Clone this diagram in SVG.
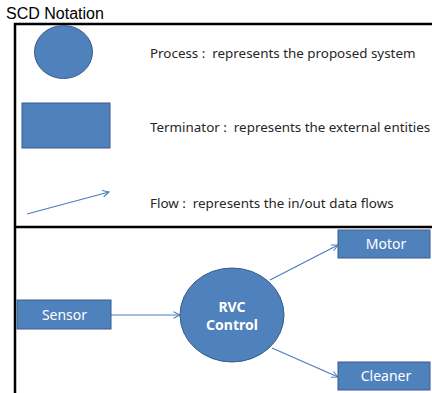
<svg xmlns="http://www.w3.org/2000/svg" width="432" height="393" viewBox="0 0 432 393">
  <defs>
    <marker id="arrow" viewBox="0 0 10 10" refX="9" refY="5" markerWidth="8" markerHeight="8" orient="auto" markerUnits="userSpaceOnUse">
      <path d="M1,1 L9,5 L1,9" fill="none" stroke="#4A7EBB" stroke-width="1.3"/>
    </marker>
  </defs>
  <style>
    .shape { fill: #4F81BD; stroke: #385D8A; stroke-width: 1; }
    .frame { fill: none; stroke: #000; stroke-width: 2.5; }
    .flow { fill: none; stroke: #4A7EBB; stroke-width: 1.2; marker-end: url(#arrow); }
    .legend { font-family: "Noto Sans", "Open Sans", sans-serif; font-size: 13.4px; fill: #262626; }
    .label { font-family: "Noto Sans", "Open Sans", sans-serif; font-size: 14px; fill: #fff; text-anchor: middle; }
    .title { font-family: "Liberation Sans", Arial, sans-serif; font-size: 16px; fill: #000; }
  </style>
  <rect width="432" height="393" fill="#fff"/>

  <text class="title" x="6" y="19">SCD Notation</text>

  <!-- frame -->
  <path class="frame" d="M15,393 V24 H432 M15,227 H432"/>

  <!-- legend -->
  <g id="legend-process">
    <ellipse class="shape" cx="63.5" cy="52" rx="29" ry="26.5"/>
    <text class="legend" x="150" y="58" xml:space="preserve">Process :  represents the proposed system</text>
  </g>
  <g id="legend-terminator">
    <rect class="shape" x="22" y="103" width="88" height="45"/>
    <text class="legend" x="150" y="132" xml:space="preserve">Terminator :  represents the external entities</text>
  </g>
  <g id="legend-flow">
    <line class="flow" x1="27" y1="214" x2="109" y2="192"/>
    <text class="legend" x="150" y="208" xml:space="preserve">Flow :  represents the in/out data flows</text>
  </g>

  <!-- connectors -->
  <g id="connectors">
    <line class="flow" x1="111" y1="315" x2="180" y2="315"/>
    <line class="flow" x1="270" y1="280" x2="338" y2="245"/>
    <line class="flow" x1="272" y1="348" x2="338" y2="377"/>
  </g>

  <g id="sensor">
    <rect class="shape" x="17" y="300" width="94" height="29"/>
    <text class="label" x="64.5" y="320">Sensor</text>
  </g>
  <g id="rvc-control">
    <ellipse class="shape" cx="232" cy="315" rx="52" ry="47"/>
    <text class="label" x="232" y="312" style="font-weight:bold">RVC</text>
    <text class="label" x="232" y="330" style="font-weight:bold">Control</text>
  </g>
  <g id="motor">
    <rect class="shape" x="338" y="230" width="92" height="28"/>
    <text class="label" x="386" y="249">Motor</text>
  </g>
  <g id="cleaner">
    <rect class="shape" x="338" y="362" width="92" height="28"/>
    <text class="label" x="386" y="381">Cleaner</text>
  </g>
</svg>
